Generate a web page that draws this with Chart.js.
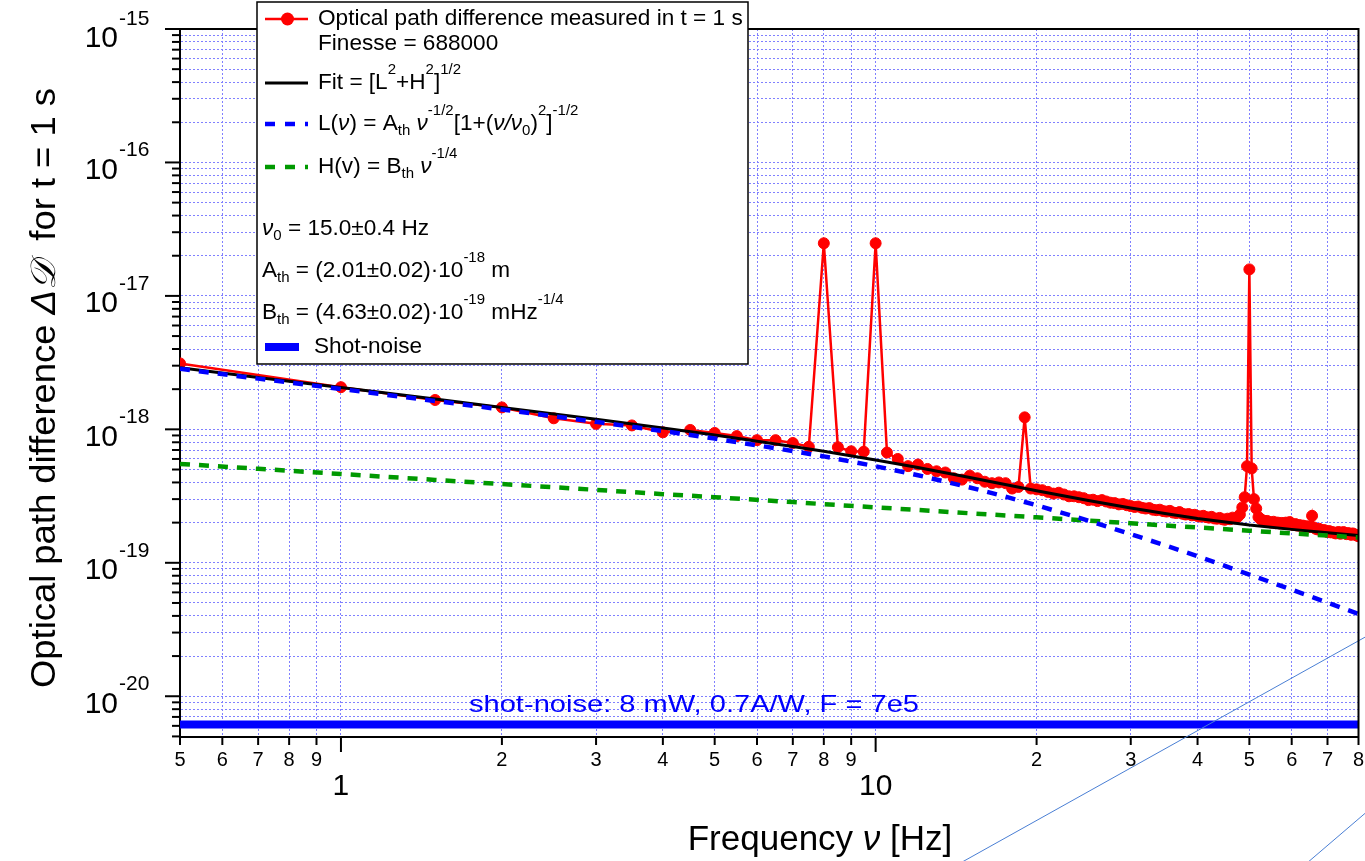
<!DOCTYPE html>
<html>
<head>
<meta charset="utf-8">
<script src="https://cdn.jsdelivr.net/npm/chart.js@4.4.1/dist/chart.umd.min.js"></script>
<style>
  html, body { margin: 0; padding: 0; background: #fff; }
  #wrap { width: 1365px; height: 861px; }
</style>
</head>
<body>
<div id="wrap"><canvas id="noiseChart" width="1365" height="861"></canvas></div>
<script>
// measured spectrum, 0.5 Hz bins
const freqs = [
  0.5, 1, 1.5, 2, 2.5, 3, 3.5, 4, 4.5, 5,
  5.5, 6, 6.5, 7, 7.5, 8, 8.5, 9, 9.5, 10,
  10.5, 11, 11.5, 12, 12.5, 13, 13.5, 14, 14.5, 15,
  15.5, 16, 16.5, 17, 17.5, 18, 18.5, 19, 19.5, 20,
  20.5, 21, 21.5, 22, 22.5, 23, 23.5, 24, 24.5, 25,
  25.5, 26, 26.5, 27, 27.5, 28, 28.5, 29, 29.5, 30,
  30.5, 31, 31.5, 32, 32.5, 33, 33.5, 34, 34.5, 35,
  35.5, 36, 36.5, 37, 37.5, 38, 38.5, 39, 39.5, 40,
  40.5, 41, 41.5, 42, 42.5, 43, 43.5, 44, 44.5, 45,
  45.5, 46, 46.5, 47, 47.5, 48, 48.5, 49, 49.5, 50,
  50.5, 51, 51.5, 52, 52.5, 53, 53.5, 54, 54.5, 55,
  55.5, 56, 56.5, 57, 57.5, 58, 58.5, 59, 59.5, 60,
  60.5, 61, 61.5, 62, 62.5, 63, 63.5, 64, 64.5, 65,
  65.5, 66, 66.5, 67, 67.5, 68, 68.5, 69, 69.5, 70,
  70.5, 71, 71.5, 72, 72.5, 73, 73.5, 74, 74.5, 75,
  75.5, 76, 76.5, 77, 77.5, 78, 78.5, 79, 79.5, 80
];
const measured = [
  3.12e-18, 2.07e-18, 1.66e-18, 1.46e-18, 1.21e-18, 1.10e-18, 1.07e-18, 9.5e-19, 9.9e-19, 9.4e-19,
  8.9e-19, 8.3e-19, 8.3e-19, 7.9e-19, 7.4e-19, 2.48e-17, 7.35e-19, 6.85e-19, 6.8e-19, 2.48e-17,
  6.7e-19, 6.0e-19, 5.3e-19, 5.45e-19, 5.05e-19, 4.85e-19, 4.75e-19, 4.3e-19, 4.2e-19, 4.5e-19,
  4.3e-19, 4.05e-19, 3.95e-19, 4.0e-19, 3.95e-19, 3.6e-19, 3.7e-19, 1.23e-18, 3.6e-19, 3.55e-19,
  3.5e-19, 3.4e-19, 3.3e-19, 3.35e-19, 3.25e-19, 3.15e-19, 3.15e-19, 3.1e-19, 3.05e-19, 2.95e-19,
  2.97e-19, 2.9e-19, 2.95e-19, 2.88e-19, 2.82e-19, 2.8e-19, 2.74e-19, 2.76e-19, 2.7e-19, 2.66e-19,
  2.62e-19, 2.64e-19, 2.58e-19, 2.55e-19, 2.57e-19, 2.5e-19, 2.48e-19, 2.5e-19, 2.44e-19, 2.42e-19,
  2.45e-19, 2.38e-19, 2.36e-19, 2.4e-19, 2.33e-19, 2.3e-19, 2.32e-19, 2.27e-19, 2.29e-19, 2.24e-19,
  2.22e-19, 2.25e-19, 2.2e-19, 2.18e-19, 2.21e-19, 2.15e-19, 2.14e-19, 2.17e-19, 2.12e-19, 2.1e-19,
  2.14e-19, 2.12e-19, 2.18e-19, 2.15e-19, 2.2e-19, 2.3e-19, 2.6e-19, 3.1e-19, 5.3e-19, 1.58e-17,
  5.1e-19, 3.0e-19, 2.55e-19, 2.2e-19, 2.12e-19, 2.08e-19, 2.05e-19, 2.06e-19, 2.02e-19, 2.0e-19,
  2.03e-19, 1.98e-19, 2.0e-19, 1.97e-19, 1.99e-19, 1.96e-19, 2.0e-19, 1.95e-19, 2.02e-19, 1.94e-19,
  1.92e-19, 1.95e-19, 1.9e-19, 1.92e-19, 1.88e-19, 1.9e-19, 1.86e-19, 1.88e-19, 1.85e-19, 1.87e-19,
  2.25e-19, 1.84e-19, 1.8e-19, 1.78e-19, 1.8e-19, 1.75e-19, 1.73e-19, 1.76e-19, 1.72e-19, 1.7e-19,
  1.73e-19, 1.69e-19, 1.7e-19, 1.68e-19, 1.66e-19, 1.69e-19, 1.7e-19, 1.65e-19, 1.67e-19, 1.7e-19,
  1.66e-19, 1.64e-19, 1.67e-19, 1.65e-19, 1.62e-19, 1.66e-19, 1.64e-19, 1.62e-19, 1.6e-19, 1.58e-19
];

// fit curves
const fitFreqs = [0.5, 0.7, 1, 1.5, 2, 3, 4, 5, 7, 8, 10, 12, 15, 17, 20, 25, 30, 35, 40, 50, 60, 70, 80];
const fitTotal = [2.89e-18, 2.45e-18, 2.06e-18, 1.69e-18, 1.46e-18, 1.19e-18, 1.025e-18, 9.08e-19, 7.45e-19, 6.85e-19,
  5.89e-19, 5.17e-19, 4.36e-19, 3.95e-19, 3.47e-19, 2.93e-19, 2.57e-19, 2.33e-19, 2.15e-19, 1.92e-19, 1.78e-19, 1.68e-19, 1.60e-19];
const fitLow = [2.84e-18, 2.40e-18, 2.005e-18, 1.633e-18, 1.409e-18, 1.138e-18, 9.71e-19, 8.53e-19, 6.88e-19, 6.27e-19,
  5.29e-19, 4.53e-19, 3.67e-19, 3.23e-19, 2.70e-19, 2.07e-19, 1.64e-19, 1.34e-19, 1.12e-19, 8.17e-20, 6.29e-20, 5.03e-20, 4.14e-20];
const fitHigh = [5.51e-19, 5.06e-19, 4.63e-19, 4.18e-19, 3.89e-19, 3.52e-19, 3.27e-19, 3.10e-19, 2.85e-19, 2.75e-19,
  2.60e-19, 2.49e-19, 2.35e-19, 2.28e-19, 2.19e-19, 2.07e-19, 1.98e-19, 1.90e-19, 1.84e-19, 1.74e-19, 1.66e-19, 1.60e-19, 1.55e-19];

const shotFreqs = [0.5, 80];
const shotNoise = [6.15e-21, 6.15e-21];

// two stray thin lines crossing the bottom-right corner
const strayAFreqs = [13.76, 87.86];
const strayAValues = [5.08e-22, 3.21e-20];
const strayBFreqs = [62.2, 87.86];
const strayBValues = [5.08e-22, 1.66e-21];

// axes
const xTickValues = [0.5, 0.6, 0.7, 0.8, 0.9, 1, 2, 3, 4, 5, 6, 7, 8, 9, 10, 20, 30, 40, 50, 60, 70, 80];
const xTickLabels = ['5', '6', '7', '8', '9', '1', '2', '3', '4', '5', '6', '7', '8', '9', '10', '2', '3', '4', '5', '6', '7', '8'];
const xMajorValues = [1, 10];
const yDecades = [1e-21, 1e-20, 1e-19, 1e-18, 1e-17, 1e-16, 1e-15];
const yDecadeLabels = ['-21', '-20', '-19', '-18', '-17', '-16', '-15'];
const yMantissas = [1, 2, 3, 4, 5, 6, 7, 8, 9];
const X_MIN = 0.5, X_MAX = 80, Y_MIN = 4.95e-21, Y_MAX = 1e-15;

const SANS = '"Liberation Sans", Arial, sans-serif';
const GRID = '#8080ff';

const pts = (xs, ys) => xs.map((v, i) => ({ x: v, y: ys[i] }));

const yTicks = [];
yDecades.forEach(d => yMantissas.forEach(m => {
  const v = d * m;
  if (v >= Y_MIN * 0.999 && v <= Y_MAX * 1.001) yTicks.push(v);
}));

// draws a run of [text, kind] pieces; kind: '' | 'i' | 'sup' | 'sub'
function rich(ctx, x, y, parts, size, draw = true) {
  let cx = x;
  for (const [t, k] of parts) {
    const small = k === 'sup' || k === 'sub';
    const fs = small ? Math.round(size * 0.68) : size;
    ctx.font = (k === 'i' ? 'italic ' : '') + fs + 'px ' + SANS;
    const dy = k === 'sup' ? -size * 0.6 : k === 'sub' ? size * 0.32 : 0;
    if (draw) ctx.fillText(t, cx, y + dy);
    cx += ctx.measureText(t).width;
  }
  return cx - x;
}

const decor = {
  id: 'decor',
  afterDraw(chart) {
    const { ctx, chartArea: a, scales: { x, y } } = chart;
    ctx.save();

    // frame on top and right
    ctx.strokeStyle = '#000';
    ctx.lineWidth = 2;
    ctx.beginPath();
    ctx.moveTo(a.left, a.top);
    ctx.lineTo(a.right, a.top);
    ctx.lineTo(a.right, a.bottom);
    ctx.stroke();

    // x ticks + two-row labels
    ctx.fillStyle = '#000';
    ctx.textAlign = 'center';
    ctx.textBaseline = 'middle';
    xTickValues.forEach((v, i) => {
      const px = x.getPixelForValue(v);
      const major = xMajorValues.includes(v);
      ctx.beginPath();
      ctx.moveTo(px, a.bottom);
      ctx.lineTo(px, a.bottom + (major ? 15 : 8));
      ctx.stroke();
      if (major) {
        ctx.font = '30px ' + SANS;
        ctx.fillText(xTickLabels[i], px, 787);
      } else {
        ctx.font = '20px ' + SANS;
        ctx.fillText(xTickLabels[i], px, 760);
      }
    });

    // y ticks
    yTicks.forEach(v => {
      const py = y.getPixelForValue(v);
      const major = yDecades.some(d => Math.abs(d - v) / d < 1e-6);
      ctx.beginPath();
      ctx.moveTo(a.left, py);
      ctx.lineTo(a.left - (major ? 15 : 8), py);
      ctx.stroke();
    });
    yDecades.forEach((d, i) => {
      if (d < Y_MIN || d > Y_MAX * 1.001) return;
      const py = y.getPixelForValue(d);
      const off = i === yDecades.length - 1 ? 10 : 8;
      ctx.textAlign = 'right';
      ctx.font = '30px ' + SANS;
      ctx.fillText('10', 118, py + off);
      ctx.textAlign = 'left';
      ctx.font = '21px ' + SANS;
      ctx.fillText(yDecadeLabels[i], 119, py + off - 20);
    });

    // axis titles
    ctx.textAlign = 'left';
    const yParts = [['Optical path difference ', ''], ['Δ𝒟', 'i'], ['  for t = 1 s', '']];
    ctx.save();
    ctx.translate(45, 388);
    ctx.rotate(-Math.PI / 2);
    const yw = rich(ctx, 0, 0, yParts, 35, false);
    ctx.scale(600 / yw, 1);
    rich(ctx, -yw / 2, 0, yParts, 35);
    ctx.restore();
    const xParts = [['Frequency ', ''], ['ν', 'i'], [' [Hz]', '']];
    const xw = rich(ctx, 0, 0, xParts, 35, false);
    rich(ctx, 820 - xw / 2, 840, xParts, 35);

    // shot-noise annotation
    ctx.save();
    ctx.fillStyle = '#0000ff';
    ctx.font = '24px ' + SANS;
    ctx.textBaseline = 'alphabetic';
    const note = 'shot-noise: 8 mW, 0.7A/W, F = 7e5';
    const nw = ctx.measureText(note).width;
    ctx.translate(469, 712);
    ctx.scale(450 / nw, 1);
    ctx.fillText(note, 0, 0);
    ctx.restore();

    // legend box
    ctx.fillStyle = '#fff';
    ctx.fillRect(257, 2, 491, 362);
    ctx.strokeStyle = '#000';
    ctx.lineWidth = 1.5;
    ctx.strokeRect(257, 2, 491, 362);

    const sample = (yy, color, width, dash) => {
      ctx.save();
      ctx.strokeStyle = color;
      ctx.lineWidth = width;
      ctx.setLineDash(dash);
      ctx.beginPath();
      ctx.moveTo(265, yy);
      ctx.lineTo(308, yy);
      ctx.stroke();
      ctx.restore();
    };
    sample(19, '#ff0000', 2.5, []);
    ctx.fillStyle = '#ff0000';
    ctx.beginPath();
    ctx.arc(287.5, 19, 6.5, 0, Math.PI * 2);
    ctx.fill();
    sample(83, '#000', 3, []);
    sample(124, '#0000ff', 4.5, [10, 10]);
    sample(167, '#009900', 4.5, [10, 10]);
    ctx.save();
    ctx.strokeStyle = '#0000ff';
    ctx.lineWidth = 8;
    ctx.beginPath();
    ctx.moveTo(265, 347);
    ctx.lineTo(299, 347);
    ctx.stroke();
    ctx.restore();

    ctx.fillStyle = '#000';
    ctx.textBaseline = 'middle';
    const fs = 22.6;
    rich(ctx, 318, 19, [['Optical path difference measured in t = 1 s', '']], fs);
    rich(ctx, 318, 44, [['Finesse = 688000', '']], fs);
    rich(ctx, 318, 83, [['Fit = [L', ''], ['2', 'sup'], ['+H', ''], ['2', 'sup'], [']', ''], ['1/2', 'sup']], fs);
    rich(ctx, 318, 124, [['L(', ''], ['ν', 'i'], [') = A', ''], ['th', 'sub'], [' ', ''], ['ν', 'i'], ['-1/2', 'sup'],
      ['[1+(', ''], ['ν/ν', 'i'], ['0', 'sub'], [')', ''], ['2', 'sup'], [']', ''], ['-1/2', 'sup']], fs);
    rich(ctx, 318, 167, [['H(v) = B', ''], ['th', 'sub'], [' ', ''], ['ν', 'i'], ['-1/4', 'sup']], fs);
    rich(ctx, 262, 229, [['ν', 'i'], ['0', 'sub'], [' = 15.0±0.4 Hz', '']], fs);
    rich(ctx, 262, 271, [['A', ''], ['th', 'sub'], [' = (2.01±0.02)·10', ''], ['-18', 'sup'], [' m', '']], fs);
    rich(ctx, 262, 313, [['B', ''], ['th', 'sub'], [' = (4.63±0.02)·10', ''], ['-19', 'sup'], [' mHz', ''], ['-1/4', 'sup']], fs);
    rich(ctx, 314, 347, [['Shot-noise', '']], fs);

    ctx.restore();
  }
};

const ctx = document.getElementById('noiseChart').getContext('2d');
new Chart(ctx, {
  type: 'line',
  data: {
    datasets: [
      {
        label: 'Shot-noise',
        data: pts(shotFreqs, shotNoise),
        borderColor: '#0000ff',
        borderWidth: 8,
        pointRadius: 0,
        order: 6
      },
      {
        label: 'Optical path difference measured in t = 1 s',
        data: pts(freqs, measured),
        borderColor: '#ff0000',
        backgroundColor: '#ff0000',
        borderWidth: 2.5,
        pointRadius: 5.5,
        pointBorderWidth: 1,
        order: 5
      },
      {
        label: 'Fit',
        data: pts(fitFreqs, fitTotal),
        borderColor: '#000000',
        borderWidth: 3,
        pointRadius: 0,
        order: 4
      },
      {
        label: 'H',
        data: pts(fitFreqs, fitHigh),
        borderColor: '#009900',
        borderWidth: 4.5,
        borderDash: [10, 9],
        pointRadius: 0,
        order: 3
      },
      {
        label: 'L',
        data: pts(fitFreqs, fitLow),
        borderColor: '#0000ff',
        borderWidth: 4.5,
        borderDash: [10, 9],
        pointRadius: 0,
        order: 2
      },
      {
        label: 'stray A',
        data: pts(strayAFreqs, strayAValues),
        borderColor: '#4a7fd4',
        borderWidth: 1,
        pointRadius: 0,
        clip: false,
        order: 1
      },
      {
        label: 'stray B',
        data: pts(strayBFreqs, strayBValues),
        borderColor: '#4a7fd4',
        borderWidth: 1,
        pointRadius: 0,
        clip: false,
        order: 1
      }
    ]
  },
  options: {
    responsive: false,
    devicePixelRatio: 1,
    animation: false,
    events: [],
    layout: { padding: { top: 29, right: 6, left: 0, bottom: 0 } },
    plugins: {
      legend: { display: false },
      tooltip: { enabled: false }
    },
    scales: {
      x: {
        type: 'logarithmic',
        min: X_MIN,
        max: X_MAX,
        afterBuildTicks: s => { s.ticks = xTickValues.map(v => ({ value: v })); },
        afterFit: s => { s.height = 124; },
        ticks: { display: false },
        grid: { color: GRID, lineWidth: 1, drawTicks: false },
        border: { display: true, color: '#000', width: 2, dash: [2, 2] }
      },
      y: {
        type: 'logarithmic',
        min: Y_MIN,
        max: Y_MAX,
        afterBuildTicks: s => { s.ticks = yTicks.map(v => ({ value: v })); },
        afterFit: s => { s.width = 180; },
        ticks: { display: false },
        grid: { color: GRID, lineWidth: 1, drawTicks: false },
        border: { display: true, color: '#000', width: 2, dash: [2, 2] }
      }
    }
  },
  plugins: [decor]
});
</script>
</body>
</html>
